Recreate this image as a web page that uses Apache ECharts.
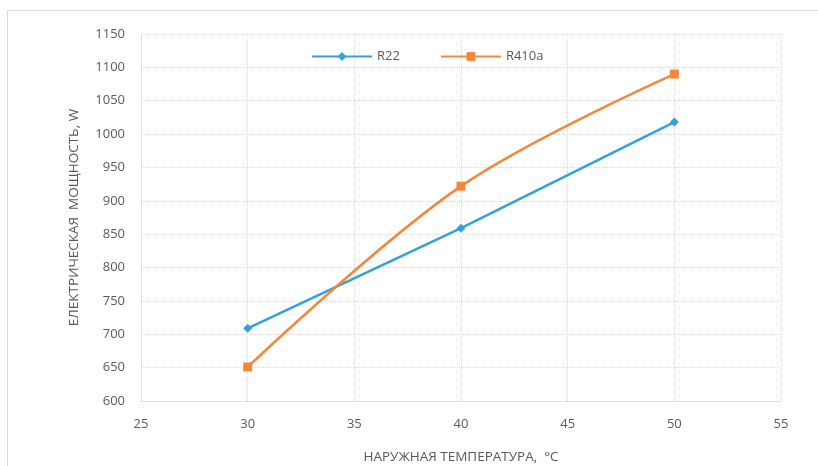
<!DOCTYPE html>
<html><head><meta charset="utf-8">
<script src="https://cdn.jsdelivr.net/npm/echarts@6/dist/echarts.min.js"></script>
<style>html,body{margin:0;padding:0;background:#fff}#c{width:818px;height:466px}</style>
</head><body><div id="c"></div>
<script>
const xTemps = [30, 40, 50];
const r22 = [709, 859, 1018];
const r410a = [651, 922, 1090];
const seriesNames = ['R22', 'R410a'];
const xTitle = 'НАРУЖНАЯ ТЕМПЕРАТУРА,  °C';
const yTitle = 'ЕЛЕКТРИЧЕСКАЯ  МОЩНОСТЬ, W';

const chart = echarts.init(document.getElementById('c'));
const font = '"Open Sans", "DejaVu Sans", sans-serif';
const txt = '#595959';
const grid = { type: 'dotted', color: '#d9d9d9', width: 1 };
chart.setOption({
  animation: false,
  graphic: [{ type: 'polyline', shape: { points: [[7.5, 470], [7.5, 10.5], [830, 10.5]] }, style: { stroke: '#d9d9d9', lineWidth: 1, fill: null } }],
  grid: { left: 141, right: 37, top: 34, bottom: 65, containLabel: false, outerBoundsMode: 'none' },
  legend: {
    top: 45, left: 306, itemGap: 40, itemWidth: 60, itemHeight: 11,
    textStyle: { color: txt, fontSize: 13, fontFamily: font },
    data: seriesNames
  },
  xAxis: {
    type: 'value', min: 25, max: 55, interval: 5,
    name: xTitle, nameLocation: 'middle', nameGap: 49,
    nameTextStyle: { color: txt, fontSize: 13.5, fontFamily: font },
    axisLine: { show: true, lineStyle: grid },
    axisTick: { show: false },
    axisLabel: { color: txt, fontSize: 13, fontFamily: font, margin: 17 },
    splitLine: { show: true, lineStyle: grid }
  },
  yAxis: {
    type: 'value', min: 600, max: 1150, interval: 50,
    name: yTitle, nameLocation: 'middle', nameGap: 60,
    nameTextStyle: { color: txt, fontSize: 13.5, fontFamily: font },
    axisLine: { show: true, lineStyle: grid },
    axisTick: { show: false },
    axisLabel: { color: txt, fontSize: 13, fontFamily: font, margin: 16, formatter: v => String(v) },
    splitLine: { show: true, lineStyle: grid }
  },
  series: [
    {
      name: seriesNames[0], type: 'line', data: xTemps.map((x, i) => [x, r22[i]]),
      symbol: 'diamond', symbolSize: 9, color: '#33A1DB',
      lineStyle: { width: 2.5 }, itemStyle: { color: '#33A1DB' }
    },
    {
      name: seriesNames[1], type: 'line', data: xTemps.map((x, i) => [x, r410a[i]]),
      symbol: 'rect', symbolSize: 9, smooth: 0.35, color: '#F5873A',
      lineStyle: { width: 2.5 }, itemStyle: { color: '#F5873A' }
    }
  ]
});
</script></body></html>
